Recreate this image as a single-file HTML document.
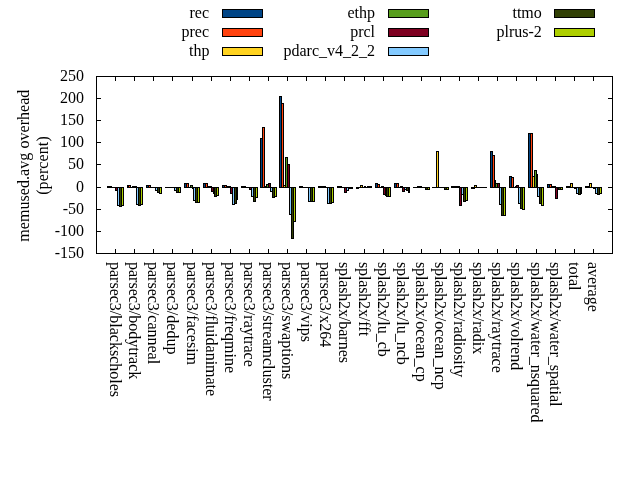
<!DOCTYPE html>
<html><head><meta charset="utf-8"><style>
html,body{margin:0;padding:0;background:#fff;}
svg{display:block;will-change:transform;}
text{font-family:"Liberation Serif",serif;font-size:16px;fill:#000;}
</style></head><body>
<svg width="640" height="480" viewBox="0 0 640 480">
<rect x="0" y="0" width="640" height="480" fill="#fff"/>
<g shape-rendering="crispEdges">
<rect x="107" y="186" width="3" height="2" fill="#000"/>
<rect x="109" y="186" width="3" height="2" fill="#000"/>
<rect x="111" y="187" width="3" height="1" fill="#000"/>
<rect x="113" y="187" width="3" height="1" fill="#000"/>
<rect x="115" y="187" width="3" height="4" fill="#000"/>
<rect x="116" y="188" width="1" height="2" fill="#7e0021"/>
<rect x="117" y="187" width="3" height="19" fill="#000"/>
<rect x="118" y="188" width="1" height="17" fill="#83caff"/>
<rect x="119" y="187" width="3" height="20" fill="#000"/>
<rect x="120" y="188" width="1" height="18" fill="#314004"/>
<rect x="121" y="187" width="3" height="19" fill="#000"/>
<rect x="122" y="188" width="1" height="17" fill="#aecf00"/>
<rect x="127" y="185" width="2" height="3" fill="#000"/>
<rect x="128" y="185" width="3" height="3" fill="#000"/>
<rect x="129" y="186" width="1" height="1" fill="#ff420e"/>
<rect x="130" y="187" width="3" height="1" fill="#000"/>
<rect x="132" y="186" width="3" height="2" fill="#000"/>
<rect x="134" y="186" width="3" height="2" fill="#000"/>
<rect x="136" y="187" width="3" height="18" fill="#000"/>
<rect x="137" y="188" width="1" height="16" fill="#83caff"/>
<rect x="138" y="187" width="3" height="19" fill="#000"/>
<rect x="139" y="188" width="1" height="17" fill="#314004"/>
<rect x="140" y="187" width="3" height="18" fill="#000"/>
<rect x="141" y="188" width="1" height="16" fill="#aecf00"/>
<rect x="146" y="185" width="3" height="3" fill="#000"/>
<rect x="147" y="186" width="1" height="1" fill="#004586"/>
<rect x="148" y="185" width="3" height="3" fill="#000"/>
<rect x="149" y="186" width="1" height="1" fill="#ff420e"/>
<rect x="150" y="187" width="2" height="1" fill="#000"/>
<rect x="151" y="187" width="3" height="1" fill="#000"/>
<rect x="153" y="187" width="3" height="1" fill="#000"/>
<rect x="155" y="187" width="3" height="4" fill="#000"/>
<rect x="156" y="188" width="1" height="2" fill="#83caff"/>
<rect x="157" y="187" width="3" height="6" fill="#000"/>
<rect x="158" y="188" width="1" height="4" fill="#314004"/>
<rect x="159" y="187" width="3" height="7" fill="#000"/>
<rect x="160" y="188" width="1" height="5" fill="#aecf00"/>
<rect x="165" y="187" width="3" height="1" fill="#000"/>
<rect x="167" y="187" width="3" height="1" fill="#000"/>
<rect x="169" y="187" width="3" height="1" fill="#000"/>
<rect x="171" y="187" width="2" height="1" fill="#000"/>
<rect x="172" y="187" width="3" height="1" fill="#000"/>
<rect x="174" y="187" width="3" height="4" fill="#000"/>
<rect x="175" y="188" width="1" height="2" fill="#83caff"/>
<rect x="176" y="187" width="3" height="6" fill="#000"/>
<rect x="177" y="188" width="1" height="4" fill="#314004"/>
<rect x="178" y="187" width="3" height="6" fill="#000"/>
<rect x="179" y="188" width="1" height="4" fill="#aecf00"/>
<rect x="184" y="183" width="3" height="5" fill="#000"/>
<rect x="185" y="184" width="1" height="3" fill="#004586"/>
<rect x="186" y="183" width="3" height="5" fill="#000"/>
<rect x="187" y="184" width="1" height="3" fill="#ff420e"/>
<rect x="188" y="187" width="3" height="1" fill="#000"/>
<rect x="190" y="185" width="3" height="3" fill="#000"/>
<rect x="191" y="186" width="1" height="1" fill="#579d1c"/>
<rect x="192" y="187" width="2" height="2" fill="#000"/>
<rect x="193" y="187" width="3" height="14" fill="#000"/>
<rect x="194" y="188" width="1" height="12" fill="#83caff"/>
<rect x="195" y="187" width="3" height="16" fill="#000"/>
<rect x="196" y="188" width="1" height="14" fill="#314004"/>
<rect x="197" y="187" width="3" height="16" fill="#000"/>
<rect x="198" y="188" width="1" height="14" fill="#aecf00"/>
<rect x="203" y="183" width="3" height="5" fill="#000"/>
<rect x="204" y="184" width="1" height="3" fill="#004586"/>
<rect x="205" y="183" width="3" height="5" fill="#000"/>
<rect x="206" y="184" width="1" height="3" fill="#ff420e"/>
<rect x="207" y="186" width="3" height="2" fill="#000"/>
<rect x="209" y="186" width="3" height="2" fill="#000"/>
<rect x="211" y="187" width="3" height="5" fill="#000"/>
<rect x="212" y="188" width="1" height="3" fill="#7e0021"/>
<rect x="213" y="187" width="2" height="7" fill="#000"/>
<rect x="214" y="187" width="3" height="10" fill="#000"/>
<rect x="215" y="188" width="1" height="8" fill="#314004"/>
<rect x="216" y="187" width="3" height="9" fill="#000"/>
<rect x="217" y="188" width="1" height="7" fill="#aecf00"/>
<rect x="222" y="185" width="3" height="3" fill="#000"/>
<rect x="223" y="186" width="1" height="1" fill="#004586"/>
<rect x="224" y="185" width="3" height="3" fill="#000"/>
<rect x="225" y="186" width="1" height="1" fill="#ff420e"/>
<rect x="226" y="186" width="3" height="2" fill="#000"/>
<rect x="228" y="186" width="3" height="2" fill="#000"/>
<rect x="230" y="187" width="3" height="7" fill="#000"/>
<rect x="231" y="188" width="1" height="5" fill="#7e0021"/>
<rect x="232" y="187" width="3" height="18" fill="#000"/>
<rect x="233" y="188" width="1" height="16" fill="#83caff"/>
<rect x="234" y="187" width="3" height="17" fill="#000"/>
<rect x="235" y="188" width="1" height="15" fill="#314004"/>
<rect x="236" y="187" width="2" height="13" fill="#000"/>
<rect x="241" y="186" width="3" height="2" fill="#000"/>
<rect x="243" y="186" width="3" height="2" fill="#000"/>
<rect x="245" y="187" width="3" height="1" fill="#000"/>
<rect x="247" y="187" width="3" height="1" fill="#000"/>
<rect x="249" y="187" width="3" height="3" fill="#000"/>
<rect x="250" y="188" width="1" height="1" fill="#7e0021"/>
<rect x="251" y="187" width="3" height="10" fill="#000"/>
<rect x="252" y="188" width="1" height="8" fill="#83caff"/>
<rect x="253" y="187" width="3" height="15" fill="#000"/>
<rect x="254" y="188" width="1" height="13" fill="#314004"/>
<rect x="255" y="187" width="3" height="11" fill="#000"/>
<rect x="256" y="188" width="1" height="9" fill="#aecf00"/>
<rect x="260" y="138" width="3" height="50" fill="#000"/>
<rect x="261" y="139" width="1" height="48" fill="#004586"/>
<rect x="262" y="127" width="3" height="61" fill="#000"/>
<rect x="263" y="128" width="1" height="59" fill="#ff420e"/>
<rect x="264" y="186" width="3" height="2" fill="#000"/>
<rect x="266" y="184" width="3" height="4" fill="#000"/>
<rect x="267" y="185" width="1" height="2" fill="#579d1c"/>
<rect x="268" y="183" width="3" height="5" fill="#000"/>
<rect x="269" y="184" width="1" height="3" fill="#7e0021"/>
<rect x="270" y="187" width="3" height="5" fill="#000"/>
<rect x="271" y="188" width="1" height="3" fill="#83caff"/>
<rect x="272" y="187" width="3" height="11" fill="#000"/>
<rect x="273" y="188" width="1" height="9" fill="#314004"/>
<rect x="274" y="187" width="3" height="10" fill="#000"/>
<rect x="275" y="188" width="1" height="8" fill="#aecf00"/>
<rect x="279" y="96" width="3" height="92" fill="#000"/>
<rect x="280" y="97" width="1" height="90" fill="#004586"/>
<rect x="281" y="103" width="3" height="85" fill="#000"/>
<rect x="282" y="104" width="1" height="83" fill="#ff420e"/>
<rect x="283" y="185" width="3" height="3" fill="#000"/>
<rect x="284" y="186" width="1" height="1" fill="#ffd320"/>
<rect x="285" y="157" width="3" height="31" fill="#000"/>
<rect x="286" y="158" width="1" height="29" fill="#579d1c"/>
<rect x="287" y="164" width="3" height="24" fill="#000"/>
<rect x="288" y="165" width="1" height="22" fill="#7e0021"/>
<rect x="289" y="187" width="3" height="28" fill="#000"/>
<rect x="290" y="188" width="1" height="26" fill="#83caff"/>
<rect x="291" y="187" width="3" height="52" fill="#000"/>
<rect x="292" y="188" width="1" height="50" fill="#314004"/>
<rect x="293" y="187" width="3" height="35" fill="#000"/>
<rect x="294" y="188" width="1" height="33" fill="#aecf00"/>
<rect x="299" y="186" width="2" height="2" fill="#000"/>
<rect x="300" y="186" width="3" height="2" fill="#000"/>
<rect x="302" y="187" width="3" height="1" fill="#000"/>
<rect x="304" y="187" width="3" height="1" fill="#000"/>
<rect x="306" y="187" width="3" height="1" fill="#000"/>
<rect x="308" y="187" width="3" height="15" fill="#000"/>
<rect x="309" y="188" width="1" height="13" fill="#83caff"/>
<rect x="310" y="187" width="3" height="15" fill="#000"/>
<rect x="311" y="188" width="1" height="13" fill="#314004"/>
<rect x="312" y="187" width="3" height="15" fill="#000"/>
<rect x="313" y="188" width="1" height="13" fill="#aecf00"/>
<rect x="318" y="186" width="3" height="2" fill="#000"/>
<rect x="320" y="186" width="3" height="2" fill="#000"/>
<rect x="322" y="186" width="2" height="2" fill="#000"/>
<rect x="323" y="186" width="3" height="2" fill="#000"/>
<rect x="325" y="187" width="3" height="1" fill="#000"/>
<rect x="327" y="187" width="3" height="17" fill="#000"/>
<rect x="328" y="188" width="1" height="15" fill="#83caff"/>
<rect x="329" y="187" width="3" height="17" fill="#000"/>
<rect x="330" y="188" width="1" height="15" fill="#314004"/>
<rect x="331" y="187" width="3" height="16" fill="#000"/>
<rect x="332" y="188" width="1" height="14" fill="#aecf00"/>
<rect x="337" y="186" width="3" height="2" fill="#000"/>
<rect x="339" y="186" width="3" height="2" fill="#000"/>
<rect x="341" y="187" width="3" height="1" fill="#000"/>
<rect x="343" y="187" width="2" height="1" fill="#000"/>
<rect x="344" y="187" width="3" height="6" fill="#000"/>
<rect x="345" y="188" width="1" height="4" fill="#7e0021"/>
<rect x="346" y="187" width="3" height="4" fill="#000"/>
<rect x="347" y="188" width="1" height="2" fill="#83caff"/>
<rect x="348" y="187" width="3" height="2" fill="#000"/>
<rect x="350" y="187" width="3" height="2" fill="#000"/>
<rect x="356" y="187" width="3" height="2" fill="#000"/>
<rect x="358" y="187" width="3" height="1" fill="#000"/>
<rect x="360" y="185" width="3" height="3" fill="#000"/>
<rect x="361" y="186" width="1" height="1" fill="#ffd320"/>
<rect x="362" y="187" width="3" height="1" fill="#000"/>
<rect x="364" y="186" width="2" height="2" fill="#000"/>
<rect x="365" y="187" width="3" height="1" fill="#000"/>
<rect x="367" y="186" width="3" height="2" fill="#000"/>
<rect x="369" y="186" width="3" height="2" fill="#000"/>
<rect x="375" y="183" width="3" height="5" fill="#000"/>
<rect x="376" y="184" width="1" height="3" fill="#004586"/>
<rect x="377" y="184" width="3" height="4" fill="#000"/>
<rect x="378" y="185" width="1" height="2" fill="#ff420e"/>
<rect x="379" y="187" width="3" height="1" fill="#000"/>
<rect x="381" y="186" width="3" height="2" fill="#000"/>
<rect x="383" y="187" width="3" height="8" fill="#000"/>
<rect x="384" y="188" width="1" height="6" fill="#7e0021"/>
<rect x="385" y="187" width="2" height="9" fill="#000"/>
<rect x="386" y="187" width="3" height="10" fill="#000"/>
<rect x="387" y="188" width="1" height="8" fill="#314004"/>
<rect x="388" y="187" width="3" height="10" fill="#000"/>
<rect x="389" y="188" width="1" height="8" fill="#aecf00"/>
<rect x="394" y="183" width="3" height="5" fill="#000"/>
<rect x="395" y="184" width="1" height="3" fill="#004586"/>
<rect x="396" y="183" width="3" height="5" fill="#000"/>
<rect x="397" y="184" width="1" height="3" fill="#ff420e"/>
<rect x="398" y="187" width="3" height="1" fill="#000"/>
<rect x="400" y="186" width="3" height="2" fill="#000"/>
<rect x="402" y="187" width="3" height="5" fill="#000"/>
<rect x="403" y="188" width="1" height="3" fill="#7e0021"/>
<rect x="404" y="187" width="3" height="3" fill="#000"/>
<rect x="405" y="188" width="1" height="1" fill="#83caff"/>
<rect x="406" y="187" width="3" height="4" fill="#000"/>
<rect x="407" y="188" width="1" height="2" fill="#314004"/>
<rect x="408" y="187" width="2" height="6" fill="#000"/>
<rect x="413" y="187" width="3" height="1" fill="#000"/>
<rect x="415" y="187" width="3" height="1" fill="#000"/>
<rect x="417" y="186" width="3" height="2" fill="#000"/>
<rect x="419" y="186" width="3" height="2" fill="#000"/>
<rect x="421" y="187" width="3" height="1" fill="#000"/>
<rect x="423" y="187" width="3" height="1" fill="#000"/>
<rect x="425" y="187" width="3" height="3" fill="#000"/>
<rect x="426" y="188" width="1" height="1" fill="#314004"/>
<rect x="427" y="187" width="3" height="3" fill="#000"/>
<rect x="428" y="188" width="1" height="1" fill="#aecf00"/>
<rect x="432" y="187" width="3" height="1" fill="#000"/>
<rect x="434" y="187" width="3" height="1" fill="#000"/>
<rect x="436" y="151" width="3" height="37" fill="#000"/>
<rect x="437" y="152" width="1" height="35" fill="#ffd320"/>
<rect x="438" y="187" width="3" height="1" fill="#000"/>
<rect x="440" y="187" width="3" height="1" fill="#000"/>
<rect x="442" y="187" width="3" height="1" fill="#000"/>
<rect x="444" y="187" width="3" height="3" fill="#000"/>
<rect x="445" y="188" width="1" height="1" fill="#314004"/>
<rect x="446" y="187" width="3" height="3" fill="#000"/>
<rect x="447" y="188" width="1" height="1" fill="#aecf00"/>
<rect x="451" y="186" width="3" height="2" fill="#000"/>
<rect x="453" y="186" width="3" height="2" fill="#000"/>
<rect x="455" y="186" width="3" height="2" fill="#000"/>
<rect x="457" y="186" width="3" height="2" fill="#000"/>
<rect x="459" y="187" width="3" height="19" fill="#000"/>
<rect x="460" y="188" width="1" height="17" fill="#7e0021"/>
<rect x="461" y="187" width="3" height="8" fill="#000"/>
<rect x="462" y="188" width="1" height="6" fill="#83caff"/>
<rect x="463" y="187" width="3" height="15" fill="#000"/>
<rect x="464" y="188" width="1" height="13" fill="#314004"/>
<rect x="465" y="187" width="3" height="14" fill="#000"/>
<rect x="466" y="188" width="1" height="12" fill="#aecf00"/>
<rect x="471" y="187" width="2" height="2" fill="#000"/>
<rect x="472" y="187" width="3" height="2" fill="#000"/>
<rect x="474" y="185" width="3" height="3" fill="#000"/>
<rect x="475" y="186" width="1" height="1" fill="#ffd320"/>
<rect x="476" y="187" width="3" height="1" fill="#000"/>
<rect x="478" y="187" width="3" height="1" fill="#000"/>
<rect x="480" y="187" width="3" height="1" fill="#000"/>
<rect x="482" y="187" width="3" height="1" fill="#000"/>
<rect x="484" y="187" width="3" height="1" fill="#000"/>
<rect x="490" y="151" width="3" height="37" fill="#000"/>
<rect x="491" y="152" width="1" height="35" fill="#004586"/>
<rect x="492" y="155" width="3" height="33" fill="#000"/>
<rect x="493" y="156" width="1" height="31" fill="#ff420e"/>
<rect x="494" y="180" width="2" height="8" fill="#000"/>
<rect x="495" y="183" width="3" height="5" fill="#000"/>
<rect x="496" y="184" width="1" height="3" fill="#579d1c"/>
<rect x="497" y="183" width="3" height="5" fill="#000"/>
<rect x="498" y="184" width="1" height="3" fill="#7e0021"/>
<rect x="499" y="187" width="3" height="18" fill="#000"/>
<rect x="500" y="188" width="1" height="16" fill="#83caff"/>
<rect x="501" y="187" width="3" height="29" fill="#000"/>
<rect x="502" y="188" width="1" height="27" fill="#314004"/>
<rect x="503" y="187" width="3" height="29" fill="#000"/>
<rect x="504" y="188" width="1" height="27" fill="#aecf00"/>
<rect x="509" y="176" width="3" height="12" fill="#000"/>
<rect x="510" y="177" width="1" height="10" fill="#004586"/>
<rect x="511" y="177" width="3" height="11" fill="#000"/>
<rect x="512" y="178" width="1" height="9" fill="#ff420e"/>
<rect x="513" y="187" width="3" height="1" fill="#000"/>
<rect x="515" y="186" width="2" height="2" fill="#000"/>
<rect x="516" y="185" width="3" height="3" fill="#000"/>
<rect x="517" y="186" width="1" height="1" fill="#7e0021"/>
<rect x="518" y="187" width="3" height="17" fill="#000"/>
<rect x="519" y="188" width="1" height="15" fill="#83caff"/>
<rect x="520" y="187" width="3" height="22" fill="#000"/>
<rect x="521" y="188" width="1" height="20" fill="#314004"/>
<rect x="522" y="187" width="3" height="23" fill="#000"/>
<rect x="523" y="188" width="1" height="21" fill="#aecf00"/>
<rect x="528" y="133" width="3" height="55" fill="#000"/>
<rect x="529" y="134" width="1" height="53" fill="#004586"/>
<rect x="530" y="133" width="3" height="55" fill="#000"/>
<rect x="531" y="134" width="1" height="53" fill="#ff420e"/>
<rect x="532" y="176" width="3" height="12" fill="#000"/>
<rect x="533" y="177" width="1" height="10" fill="#ffd320"/>
<rect x="534" y="170" width="3" height="18" fill="#000"/>
<rect x="535" y="171" width="1" height="16" fill="#579d1c"/>
<rect x="536" y="174" width="2" height="14" fill="#000"/>
<rect x="537" y="187" width="3" height="10" fill="#000"/>
<rect x="538" y="188" width="1" height="8" fill="#83caff"/>
<rect x="539" y="187" width="3" height="17" fill="#000"/>
<rect x="540" y="188" width="1" height="15" fill="#314004"/>
<rect x="541" y="187" width="3" height="19" fill="#000"/>
<rect x="542" y="188" width="1" height="17" fill="#aecf00"/>
<rect x="547" y="184" width="3" height="4" fill="#000"/>
<rect x="548" y="185" width="1" height="2" fill="#004586"/>
<rect x="549" y="184" width="3" height="4" fill="#000"/>
<rect x="550" y="185" width="1" height="2" fill="#ff420e"/>
<rect x="551" y="186" width="3" height="2" fill="#000"/>
<rect x="553" y="186" width="3" height="2" fill="#000"/>
<rect x="555" y="187" width="3" height="12" fill="#000"/>
<rect x="556" y="188" width="1" height="10" fill="#7e0021"/>
<rect x="557" y="187" width="2" height="3" fill="#000"/>
<rect x="558" y="187" width="3" height="3" fill="#000"/>
<rect x="559" y="188" width="1" height="1" fill="#314004"/>
<rect x="560" y="187" width="3" height="3" fill="#000"/>
<rect x="561" y="188" width="1" height="1" fill="#aecf00"/>
<rect x="566" y="186" width="3" height="2" fill="#000"/>
<rect x="568" y="186" width="3" height="2" fill="#000"/>
<rect x="570" y="183" width="3" height="5" fill="#000"/>
<rect x="571" y="184" width="1" height="3" fill="#ffd320"/>
<rect x="572" y="187" width="3" height="1" fill="#000"/>
<rect x="574" y="187" width="3" height="2" fill="#000"/>
<rect x="576" y="187" width="3" height="7" fill="#000"/>
<rect x="577" y="188" width="1" height="5" fill="#83caff"/>
<rect x="578" y="187" width="3" height="8" fill="#000"/>
<rect x="579" y="188" width="1" height="6" fill="#314004"/>
<rect x="580" y="187" width="2" height="7" fill="#000"/>
<rect x="585" y="186" width="3" height="2" fill="#000"/>
<rect x="587" y="186" width="3" height="2" fill="#000"/>
<rect x="589" y="183" width="3" height="5" fill="#000"/>
<rect x="590" y="184" width="1" height="3" fill="#ffd320"/>
<rect x="591" y="187" width="3" height="1" fill="#000"/>
<rect x="593" y="187" width="3" height="2" fill="#000"/>
<rect x="595" y="187" width="3" height="7" fill="#000"/>
<rect x="596" y="188" width="1" height="5" fill="#83caff"/>
<rect x="597" y="187" width="3" height="8" fill="#000"/>
<rect x="598" y="188" width="1" height="6" fill="#314004"/>
<rect x="599" y="187" width="3" height="7" fill="#000"/>
<rect x="600" y="188" width="1" height="5" fill="#aecf00"/>
<rect x="96" y="76" width="517" height="1" fill="#000"/>
<rect x="96" y="253" width="517" height="1" fill="#000"/>
<rect x="96" y="76" width="1" height="178" fill="#000"/>
<rect x="612" y="76" width="1" height="178" fill="#000"/>
<rect x="96" y="76" width="5" height="1" fill="#000"/>
<rect x="608" y="76" width="5" height="1" fill="#000"/>
<rect x="96" y="98" width="5" height="1" fill="#000"/>
<rect x="608" y="98" width="5" height="1" fill="#000"/>
<rect x="96" y="120" width="5" height="1" fill="#000"/>
<rect x="608" y="120" width="5" height="1" fill="#000"/>
<rect x="96" y="142" width="5" height="1" fill="#000"/>
<rect x="608" y="142" width="5" height="1" fill="#000"/>
<rect x="96" y="164" width="5" height="1" fill="#000"/>
<rect x="608" y="164" width="5" height="1" fill="#000"/>
<rect x="96" y="187" width="5" height="1" fill="#000"/>
<rect x="608" y="187" width="5" height="1" fill="#000"/>
<rect x="96" y="209" width="5" height="1" fill="#000"/>
<rect x="608" y="209" width="5" height="1" fill="#000"/>
<rect x="96" y="231" width="5" height="1" fill="#000"/>
<rect x="608" y="231" width="5" height="1" fill="#000"/>
<rect x="96" y="253" width="5" height="1" fill="#000"/>
<rect x="608" y="253" width="5" height="1" fill="#000"/>
<rect x="115" y="76" width="1" height="5" fill="#000"/>
<rect x="115" y="249" width="1" height="5" fill="#000"/>
<rect x="134" y="76" width="1" height="5" fill="#000"/>
<rect x="134" y="249" width="1" height="5" fill="#000"/>
<rect x="153" y="76" width="1" height="5" fill="#000"/>
<rect x="153" y="249" width="1" height="5" fill="#000"/>
<rect x="172" y="76" width="1" height="5" fill="#000"/>
<rect x="172" y="249" width="1" height="5" fill="#000"/>
<rect x="192" y="76" width="1" height="5" fill="#000"/>
<rect x="192" y="249" width="1" height="5" fill="#000"/>
<rect x="211" y="76" width="1" height="5" fill="#000"/>
<rect x="211" y="249" width="1" height="5" fill="#000"/>
<rect x="230" y="76" width="1" height="5" fill="#000"/>
<rect x="230" y="249" width="1" height="5" fill="#000"/>
<rect x="249" y="76" width="1" height="5" fill="#000"/>
<rect x="249" y="249" width="1" height="5" fill="#000"/>
<rect x="268" y="76" width="1" height="5" fill="#000"/>
<rect x="268" y="249" width="1" height="5" fill="#000"/>
<rect x="287" y="76" width="1" height="5" fill="#000"/>
<rect x="287" y="249" width="1" height="5" fill="#000"/>
<rect x="306" y="76" width="1" height="5" fill="#000"/>
<rect x="306" y="249" width="1" height="5" fill="#000"/>
<rect x="325" y="76" width="1" height="5" fill="#000"/>
<rect x="325" y="249" width="1" height="5" fill="#000"/>
<rect x="344" y="76" width="1" height="5" fill="#000"/>
<rect x="344" y="249" width="1" height="5" fill="#000"/>
<rect x="364" y="76" width="1" height="5" fill="#000"/>
<rect x="364" y="249" width="1" height="5" fill="#000"/>
<rect x="383" y="76" width="1" height="5" fill="#000"/>
<rect x="383" y="249" width="1" height="5" fill="#000"/>
<rect x="402" y="76" width="1" height="5" fill="#000"/>
<rect x="402" y="249" width="1" height="5" fill="#000"/>
<rect x="421" y="76" width="1" height="5" fill="#000"/>
<rect x="421" y="249" width="1" height="5" fill="#000"/>
<rect x="440" y="76" width="1" height="5" fill="#000"/>
<rect x="440" y="249" width="1" height="5" fill="#000"/>
<rect x="459" y="76" width="1" height="5" fill="#000"/>
<rect x="459" y="249" width="1" height="5" fill="#000"/>
<rect x="478" y="76" width="1" height="5" fill="#000"/>
<rect x="478" y="249" width="1" height="5" fill="#000"/>
<rect x="497" y="76" width="1" height="5" fill="#000"/>
<rect x="497" y="249" width="1" height="5" fill="#000"/>
<rect x="516" y="76" width="1" height="5" fill="#000"/>
<rect x="516" y="249" width="1" height="5" fill="#000"/>
<rect x="536" y="76" width="1" height="5" fill="#000"/>
<rect x="536" y="249" width="1" height="5" fill="#000"/>
<rect x="555" y="76" width="1" height="5" fill="#000"/>
<rect x="555" y="249" width="1" height="5" fill="#000"/>
<rect x="574" y="76" width="1" height="5" fill="#000"/>
<rect x="574" y="249" width="1" height="5" fill="#000"/>
<rect x="593" y="76" width="1" height="5" fill="#000"/>
<rect x="593" y="249" width="1" height="5" fill="#000"/>
<rect x="222" y="9" width="41" height="9" fill="#000"/>
<rect x="223" y="10" width="39" height="7" fill="#004586"/>
<rect x="222" y="28" width="41" height="9" fill="#000"/>
<rect x="223" y="29" width="39" height="7" fill="#ff420e"/>
<rect x="222" y="47" width="41" height="9" fill="#000"/>
<rect x="223" y="48" width="39" height="7" fill="#ffd320"/>
<rect x="388" y="9" width="41" height="9" fill="#000"/>
<rect x="389" y="10" width="39" height="7" fill="#579d1c"/>
<rect x="388" y="28" width="41" height="9" fill="#000"/>
<rect x="389" y="29" width="39" height="7" fill="#7e0021"/>
<rect x="388" y="47" width="41" height="9" fill="#000"/>
<rect x="389" y="48" width="39" height="7" fill="#83caff"/>
<rect x="554" y="9" width="41" height="9" fill="#000"/>
<rect x="555" y="10" width="39" height="7" fill="#314004"/>
<rect x="554" y="28" width="41" height="9" fill="#000"/>
<rect x="555" y="29" width="39" height="7" fill="#aecf00"/>
</g>
<g>
<text x="84" y="81" text-anchor="end">250</text>
<text x="84" y="103" text-anchor="end">200</text>
<text x="84" y="125" text-anchor="end">150</text>
<text x="84" y="147" text-anchor="end">100</text>
<text x="84" y="169" text-anchor="end">50</text>
<text x="84" y="192" text-anchor="end">0</text>
<text x="84" y="214" text-anchor="end">-50</text>
<text x="84" y="236" text-anchor="end">-100</text>
<text x="84" y="258" text-anchor="end">-150</text>
<text transform="translate(110,262) rotate(90)">parsec3/blackscholes</text>
<text transform="translate(129,262) rotate(90)">parsec3/bodytrack</text>
<text transform="translate(148,262) rotate(90)">parsec3/canneal</text>
<text transform="translate(167,262) rotate(90)">parsec3/dedup</text>
<text transform="translate(187,262) rotate(90)">parsec3/facesim</text>
<text transform="translate(206,262) rotate(90)">parsec3/fluidanimate</text>
<text transform="translate(225,262) rotate(90)">parsec3/freqmine</text>
<text transform="translate(244,262) rotate(90)">parsec3/raytrace</text>
<text transform="translate(263,262) rotate(90)">parsec3/streamcluster</text>
<text transform="translate(282,262) rotate(90)">parsec3/swaptions</text>
<text transform="translate(301,262) rotate(90)">parsec3/vips</text>
<text transform="translate(320,262) rotate(90)">parsec3/x264</text>
<text transform="translate(339,262) rotate(90)"><tspan letter-spacing="-0.15">splash2x</tspan>/barnes</text>
<text transform="translate(359,262) rotate(90)"><tspan letter-spacing="-0.15">splash2x</tspan>/fft</text>
<text transform="translate(378,262) rotate(90)"><tspan letter-spacing="-0.15">splash2x</tspan>/lu_cb</text>
<text transform="translate(397,262) rotate(90)"><tspan letter-spacing="-0.15">splash2x</tspan>/lu_ncb</text>
<text transform="translate(416,262) rotate(90)"><tspan letter-spacing="-0.15">splash2x</tspan>/ocean_cp</text>
<text transform="translate(435,262) rotate(90)"><tspan letter-spacing="-0.15">splash2x</tspan>/ocean_ncp</text>
<text transform="translate(454,262) rotate(90)"><tspan letter-spacing="-0.15">splash2x</tspan>/radiosity</text>
<text transform="translate(473,262) rotate(90)"><tspan letter-spacing="-0.15">splash2x</tspan>/radix</text>
<text transform="translate(492,262) rotate(90)"><tspan letter-spacing="-0.15">splash2x</tspan>/raytrace</text>
<text transform="translate(511,262) rotate(90)"><tspan letter-spacing="-0.15">splash2x</tspan>/volrend</text>
<text transform="translate(531,262) rotate(90)"><tspan letter-spacing="-0.15">splash2x</tspan>/water_nsquared</text>
<text transform="translate(550,262) rotate(90)"><tspan letter-spacing="-0.15">splash2x</tspan>/water_spatial</text>
<text transform="translate(569,262) rotate(90)">total</text>
<text transform="translate(588,262) rotate(90)">average</text>
<text transform="translate(29,165.6) rotate(-90)" text-anchor="middle" letter-spacing="0.05">memused.avg overhead</text>
<text transform="translate(48,165.5) rotate(-90)" text-anchor="middle" letter-spacing="0.1">(percent)</text>
<text x="209.0" y="18" text-anchor="end">rec</text>
<text x="209.0" y="37" text-anchor="end">prec</text>
<text x="209.5" y="56" text-anchor="end">thp</text>
<text x="375.0" y="18" text-anchor="end">ethp</text>
<text x="375.0" y="37" text-anchor="end">prcl</text>
<text x="375.0" y="56" text-anchor="end">pdarc_v4_2_2</text>
<text x="541.8" y="18" text-anchor="end">ttmo</text>
<text x="541.8" y="37" text-anchor="end">plrus-2</text>
</g>
</svg>
</body></html>
